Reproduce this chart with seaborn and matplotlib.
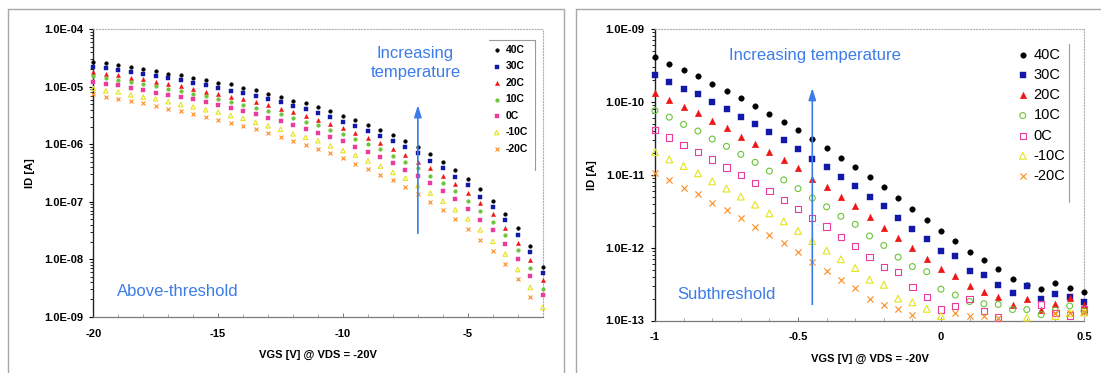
import warnings
warnings.filterwarnings("ignore")
import numpy as np
import matplotlib
matplotlib.use("Agg")
import matplotlib.pyplot as plt
from matplotlib.ticker import FuncFormatter, LogLocator, NullFormatter, FixedLocator
from matplotlib.lines import Line2D
from matplotlib.patches import Rectangle
import seaborn as sns

# ---------------- data (log10 of ID [A]) ----------------
temps = ["40C", "30C", "20C", "10C", "0C", "-10C", "-20C"]

vgs_left = [-20.0, -19.5, -19.0, -18.5, -18.0, -17.5, -17.0, -16.5, -16.0, -15.5,
            -15.0, -14.5, -14.0, -13.5, -13.0, -12.5, -12.0, -11.5, -11.0, -10.5,
            -10.0, -9.5, -9.0, -8.5, -8.0, -7.5, -7.0, -6.5, -6.0, -5.5,
            -5.0, -4.5, -4.0, -3.5, -3.0, -2.5, -2.0]

left_40C = [-4.57, -4.59, -4.62, -4.66, -4.69, -4.73, -4.77, -4.80, -4.84, -4.89, -4.93, -4.96, -5.02,
            -5.06, -5.13, -5.18, -5.24, -5.29, -5.36, -5.43, -5.51, -5.58, -5.66, -5.75, -5.84, -5.94,
            -6.05, -6.17, -6.31, -6.44, -6.61, -6.78, -6.98, -7.21, -7.46, -7.77, -8.13]
left_30C = [-4.65, -4.68, -4.71, -4.75, -4.77, -4.81, -4.85, -4.89, -4.93, -4.97, -5.02, -5.07, -5.11,
            -5.16, -5.21, -5.26, -5.34, -5.39, -5.46, -5.52, -5.61, -5.69, -5.77, -5.85, -5.95, -6.05,
            -6.16, -6.29, -6.42, -6.57, -6.71, -6.91, -7.10, -7.32, -7.58, -7.88, -8.24]
left_20C = [-4.75, -4.77, -4.80, -4.84, -4.87, -4.91, -4.95, -4.98, -5.03, -5.09, -5.13, -5.17, -5.21,
            -5.27, -5.32, -5.38, -5.44, -5.51, -5.58, -5.65, -5.72, -5.80, -5.89, -5.98, -6.08, -6.18,
            -6.30, -6.42, -6.56, -6.70, -6.85, -7.03, -7.22, -7.46, -7.71, -8.01, -8.36]
left_10C = [-4.81, -4.85, -4.88, -4.92, -4.95, -4.99, -5.03, -5.07, -5.13, -5.16, -5.21, -5.26, -5.31,
            -5.37, -5.42, -5.47, -5.54, -5.61, -5.67, -5.75, -5.82, -5.91, -6.00, -6.09, -6.20, -6.30,
            -6.41, -6.55, -6.67, -6.81, -6.98, -7.16, -7.36, -7.58, -7.84, -8.15, -8.51]
left_0C = [-4.92, -4.95, -4.97, -5.02, -5.06, -5.10, -5.14, -5.18, -5.22, -5.27, -5.31, -5.37, -5.42,
           -5.47, -5.55, -5.60, -5.66, -5.73, -5.80, -5.87, -5.95, -6.04, -6.13, -6.22, -6.33, -6.44,
           -6.55, -6.68, -6.81, -6.96, -7.12, -7.31, -7.50, -7.73, -7.99, -8.30, -8.63]
left_m10C = [-5.03, -5.07, -5.09, -5.14, -5.18, -5.21, -5.26, -5.31, -5.35, -5.40, -5.44, -5.50, -5.55,
             -5.62, -5.68, -5.74, -5.82, -5.88, -5.94, -6.03, -6.11, -6.19, -6.29, -6.38, -6.49, -6.59,
             -6.72, -6.85, -6.99, -7.14, -7.30, -7.49, -7.69, -7.91, -8.18, -8.49, -8.84]
left_m20C = [-5.13, -5.18, -5.22, -5.25, -5.29, -5.33, -5.38, -5.43, -5.47, -5.53, -5.58, -5.63, -5.68,
             -5.74, -5.81, -5.88, -5.94, -6.01, -6.08, -6.16, -6.24, -6.34, -6.43, -6.53, -6.63, -6.74,
             -6.86, -7.00, -7.15, -7.30, -7.47, -7.66, -7.86, -8.09, -8.35, -8.66, np.nan]

vgs_right = [-1.00, -0.95, -0.90, -0.85, -0.80, -0.75, -0.70, -0.65, -0.60, -0.55, -0.50,
             -0.45, -0.40, -0.35, -0.30, -0.25, -0.20, -0.15, -0.10, -0.05, 0.00,
             0.05, 0.10, 0.15, 0.20, 0.25, 0.30, 0.35, 0.40, 0.45, 0.50]
nan = np.nan
right_40C = [-9.39, -9.48, -9.56, -9.65, -9.75, -9.85, -9.95, -10.05, -10.17, -10.27, -10.38,
             -10.51, -10.63, -10.77, -10.90, -11.03, -11.17, -11.32, -11.47, -11.62, -11.77,
             -11.91, -12.06, -12.17, -12.30, -12.43, -12.51, -12.57, -12.48, -12.55, -12.61]
right_30C = [-9.63, -9.73, -9.82, -9.89, -10.00, -10.10, -10.21, -10.31, -10.41, -10.53, -10.65,
             -10.78, -10.90, -11.03, -11.16, -11.31, -11.43, -11.60, -11.74, -11.88, -12.04,
             -12.11, -12.32, -12.38, -12.51, -12.62, -12.52, -12.71, -12.64, -12.68, -12.75]
right_20C = [-9.88, -9.98, -10.07, -10.15, -10.26, -10.36, -10.48, -10.58, -10.69, -10.80, -10.91,
             -11.06, -11.17, -11.30, -11.43, -11.58, -11.73, -11.87, -12.00, -12.16, -12.30,
             -12.39, -12.52, -12.61, -12.68, -12.79, -12.71, -12.85, -12.77, -12.69, -12.79]
right_10C = [-10.12, -10.21, -10.31, -10.40, -10.51, -10.61, -10.72, -10.83, -10.95, -11.07, -11.19,
             -11.32, -11.44, -11.57, -11.68, -11.84, -11.97, -12.13, -12.26, -12.33, -12.57,
             -12.65, -12.74, -12.77, -12.78, -12.85, -12.85, -12.92, -12.86, -12.80, -12.87]
right_0C = [-10.39, -10.49, -10.59, -10.69, -10.79, -10.90, -11.00, -11.11, -11.22, -11.35, -11.47,
            -11.59, -11.71, -11.85, -11.98, -12.13, -12.27, -12.33, -12.54, -12.68, -12.85,
            -12.80, -12.70, -12.87, -12.96, nan, nan, -12.78, -12.90, -12.93, -12.85]
right_m10C = [-10.69, -10.79, -10.88, -10.98, -11.09, -11.19, -11.30, -11.41, -11.53, -11.64, -11.77,
              -11.91, -12.04, -12.16, -12.28, -12.44, -12.51, -12.70, -12.75, -12.84, -12.94,
              nan, nan, nan, nan, nan, -12.96, nan, -12.94, -12.90, -12.89]
right_m20C = [-10.98, -11.07, -11.18, -11.27, -11.39, -11.49, -11.60, -11.72, -11.82, -11.94, -12.06,
              -12.20, -12.32, -12.44, -12.56, -12.71, -12.79, -12.84, -12.93, nan, nan,
              -12.90, -12.94, -12.94, -12.96, nan, nan, nan, -12.90, -12.90, -12.89]

left_series = [left_40C, left_30C, left_20C, left_10C, left_0C, left_m10C, left_m20C]
right_series = [right_40C, right_30C, right_20C, right_10C, right_0C, right_m10C, right_m20C]

left_xticks = [-20, -15, -10, -5]
left_yticks = [1e-9, 1e-8, 1e-7, 1e-6, 1e-5, 1e-4]
right_xticks = [-1, -0.5, 0, 0.5]
right_yticks = [1e-13, 1e-12, 1e-11, 1e-10, 1e-9]

# ---------------- styling ----------------
colors = ["#000000", "#1218A8", "#F01414", "#6CC43A", "#EA3C9C", "#E4E41E", "#FF8A1E"]
markers = ["o", "s", "^", "o", "s", "^", "x"]
hollow_left = [False, False, False, False, False, True, False]
hollow_right = [False, False, False, True, True, True, False]
size_left = [7, 6, 9, 7, 8, 10, 8]
size_right = [16, 14, 22, 18, 20, 24, 20]
ann_blue = "#3C7CE8"

sns.set_theme(style="white", rc={"axes.edgecolor": "#000000", "xtick.color": "#000000",
                                 "ytick.color": "#000000", "axes.labelcolor": "#000000",
                                 "text.color": "#000000"})
plt.rcParams['font.family'] = ['Liberation Sans', 'DejaVu Sans']
plt.rcParams['axes.unicode_minus'] = False
plt.rcParams['font.weight'] = 'bold'

W, H = 1101, 373
fig = plt.figure(figsize=(W / 100, H / 100), dpi=100)
fig.patch.set_facecolor("white")


def fx(px):
    return px / W


def fy(py):
    return 1 - py / H


axL = fig.add_axes([fx(93.3), fy(316.7), (542.7 - 93.3) / W, (316.7 - 29.3) / H])
axR = fig.add_axes([fx(655.0), fy(320.5), (1084.0 - 655.0) / W, (320.5 - 29.0) / H])


def draw(ax, xs, series, hollow, sizes, lw):
    for i, t in enumerate(temps):
        y = 10 ** np.array(series[i], dtype=float)
        kw = dict(marker=markers[i], s=sizes[i], clip_on=False, zorder=3, label=t)
        if markers[i] == "x":
            kw.update(color=colors[i], linewidth=lw)
        elif hollow[i]:
            kw.update(facecolor="none", edgecolor=colors[i], linewidth=lw)
        else:
            kw.update(color=colors[i], edgecolor=colors[i], linewidth=0.3)
        sns.scatterplot(x=xs, y=y, ax=ax, **kw)


draw(axL, vgs_left, left_series, hollow_left, size_left, 0.8)
draw(axR, vgs_right, right_series, hollow_right, size_right, 0.8)

yfmt = FuncFormatter(lambda v, p: f"1.0E{int(round(np.log10(v))):+03d}")

for ax, xt, yt in ((axL, left_xticks, left_yticks), (axR, right_xticks, right_yticks)):
    ax.set_yscale("log")
    ax.yaxis.set_major_locator(FixedLocator(yt))
    ax.yaxis.set_minor_locator(LogLocator(base=10, subs=np.arange(2, 10), numticks=12))
    ax.yaxis.set_major_formatter(yfmt)
    ax.yaxis.set_minor_formatter(NullFormatter())
    ax.xaxis.set_major_locator(FixedLocator(xt))
    ax.xaxis.set_major_formatter(FuncFormatter(lambda v, p: f"{v:g}"))
    ax.xaxis.set_minor_formatter(NullFormatter())
    ax.set_facecolor("white")
    for side in ("top", "right"):
        ax.spines[side].set_linestyle(":")
        ax.spines[side].set_color("#b0b0b0")
        ax.spines[side].set_linewidth(0.8)
    ax.spines["bottom"].set_color("#7a7a7a")
    ax.spines["bottom"].set_linewidth(0.9)
    ax.spines["left"].set_color("#222222")
    ax.spines["left"].set_linewidth(1.0)
    ax.tick_params(axis="y", which="major", direction="out", length=3, width=0.8, pad=4.5,
                   labelsize=8, left=True)
    ax.tick_params(axis="y", which="minor", direction="out", length=2, width=0.6, left=True)
    ax.tick_params(axis="x", which="major", direction="in", length=3, width=0.7, pad=8.5,
                   labelsize=8, bottom=True, color="#777777")
    ax.tick_params(axis="x", which="minor", direction="in", length=2, width=0.6, bottom=True,
                   color="#999999")
    ax.set_xlabel("VGS [V] @ VDS = -20V", fontsize=8, fontweight="bold", labelpad=8)
    ax.set_ylabel("ID [A]", fontsize=8, fontweight="bold", labelpad=6)

axL.set_xlim(-20, -2)
axL.set_ylim(1e-9, 1e-4)
axL.xaxis.set_minor_locator(FixedLocator([-19, -18, -17, -16, -14, -13, -12, -11, -9, -8, -7, -6, -4, -3]))

axR.set_xlim(-1, 0.5)
axR.set_ylim(1e-13, 1e-9)
axR.xaxis.set_minor_locator(FixedLocator([-0.9, -0.8, -0.7, -0.6, -0.4, -0.3, -0.2, -0.1,
                                          0.1, 0.2, 0.3, 0.4]))

# ---------------- annotations ----------------
axL.text(-7.1, 10 ** -4.59, "Increasing\ntemperature", color=ann_blue, fontsize=12,
         fontweight="normal", ha="center", va="center", linespacing=1.3)
axL.annotate("", xy=(-7.0, 10 ** -5.32), xytext=(-7.0, 10 ** -7.55),
             arrowprops=dict(arrowstyle="-|>,head_length=0.7,head_width=0.22", color=ann_blue,
                             lw=1.2, mutation_scale=10, shrinkA=0, shrinkB=0))
axL.text(-16.6, 10 ** -8.57, "Above-threshold", color=ann_blue, fontsize=12,
         fontweight="normal", ha="center", va="center")

axR.text(-0.44, 10 ** -9.37, "Increasing temperature", color=ann_blue, fontsize=12,
         fontweight="normal", ha="center", va="center")
axR.annotate("", xy=(-0.45, 10 ** -9.81), xytext=(-0.45, 10 ** -12.78),
             arrowprops=dict(arrowstyle="-|>,head_length=0.7,head_width=0.22", color=ann_blue,
                             lw=1.2, mutation_scale=10, shrinkA=0, shrinkB=0))
axR.text(-0.75, 10 ** -12.64, "Subthreshold", color=ann_blue, fontsize=12,
         fontweight="normal", ha="center", va="center")

# ---------------- legends ----------------
legL = axL.legend(loc="upper left", bbox_to_anchor=(fx(492.5), fy(45.0)),
                  bbox_transform=fig.transFigure, frameon=False, borderpad=0, borderaxespad=0,
                  handlelength=0.8, handletextpad=0.45, labelspacing=0.62, scatterpoints=1,
                  prop={"size": 7.5, "weight": "bold"})
legR = axR.legend(loc="upper left", bbox_to_anchor=(fx(1015.5), fy(48.0)),
                  bbox_transform=fig.transFigure, frameon=False, borderpad=0, borderaxespad=0,
                  handlelength=1.0, handletextpad=0.25, labelspacing=0.42, scatterpoints=1,
                  prop={"size": 10.5, "weight": "normal"})

# ---------------- decorative frames ----------------
for (x0, y0, x1, y1) in [(8, 9.3, 563.7, 9.3), (8, 9.3, 8, 373), (563.7, 9.3, 563.7, 373),
                         (576, 9.3, 1101, 9.3), (576, 9.3, 576, 373)]:
    fig.add_artist(Line2D([fx(x0), fx(x1)], [fy(y0), fy(y1)], transform=fig.transFigure,
                          color="#a8a8a8", lw=1.0))
for (x0, y0, x1, y1) in [(489, 40, 535, 40), (535, 40, 535, 170), (1069, 44, 1069, 202)]:
    fig.add_artist(Line2D([fx(x0), fx(x1)], [fy(y0), fy(y1)], transform=fig.transFigure,
                          color="#9a9a9a", lw=0.8))

fig.savefig("out.png", dpi=100, facecolor="white")
